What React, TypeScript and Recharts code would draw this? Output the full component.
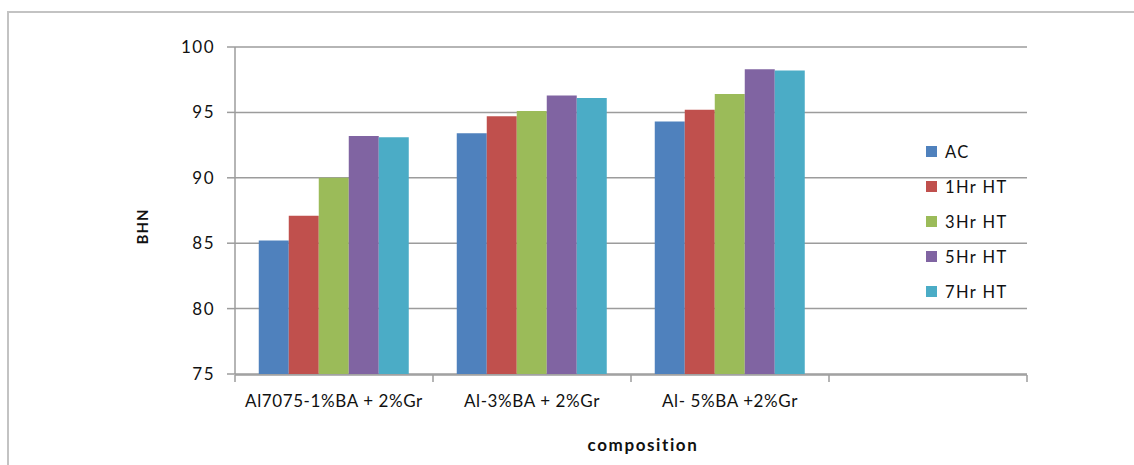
import React from 'react';
import { BarChart, Bar, XAxis, YAxis, CartesianGrid, Legend, Label } from 'recharts';

// Hardness (BHN) of each composition after different heat-treatment times
const compositions = ['Al7075-1%BA + 2%Gr', 'Al-3%BA + 2%Gr', 'Al- 5%BA +2%Gr', ''];
const acValues = [85.2, 93.4, 94.3, null];
const hr1Values = [87.1, 94.7, 95.2, null];
const hr3Values = [90.0, 95.1, 96.4, null];
const hr5Values = [93.2, 96.3, 98.3, null];
const hr7Values = [93.1, 96.1, 98.2, null];

const seriesKeys = ['ac', 'h1', 'h3', 'h5', 'h7'];
const seriesNames = ['AC', '1Hr HT', '3Hr HT', '5Hr HT', '7Hr HT'];
const seriesColors = ['#4F81BD', '#C0504D', '#9BBB59', '#8064A2', '#4BACC6'];
const yTicks = [75, 80, 85, 90, 95, 100];
const slotEdges = [0, 1, 2, 3, 4];

const seriesValues = [acValues, hr1Values, hr3Values, hr5Values, hr7Values];

const data = compositions.map((composition, i) => {
  const row: Record<string, any> = { composition, slot: i + 0.5 };
  seriesKeys.forEach((k, s) => {
    row[k] = seriesValues[s][i];
  });
  return row;
});

const FONT = 'Lato, "Open Sans", sans-serif';
const AXIS_GRAY = '#9c9c9c';
const TEXT = '#111111';

const renderLegend = () => (
  <div style={{ fontFamily: FONT, fontSize: 16.5, color: TEXT, letterSpacing: 1.4 }}>
    {seriesNames.map((name, i) => (
      <div key={name} style={{ display: 'flex', alignItems: 'center', height: 35 }}>
        <span
          style={{ display: 'inline-block', width: 11, height: 11, background: seriesColors[i], marginRight: 8 }}
        />
        <span>{name}</span>
      </div>
    ))}
  </div>
);

const yTitle = (props: any) => {
  const vb = props.viewBox || {};
  const cx = vb.x - 33;
  const cy = vb.y + vb.height / 2 + 16;
  return (
    <text
      x={cx}
      y={cy}
      transform={`rotate(-90, ${cx}, ${cy})`}
      textAnchor="middle"
      dominantBaseline="central"
      fontFamily={FONT}
      fontWeight={700}
      fontSize={15}
      letterSpacing={1}
      fill={TEXT}
    >
      BHN
    </text>
  );
};

const xTitle = (props: any) => {
  const vb = props.viewBox || {};
  return (
    <text
      x={vb.x + vb.width / 2 + 12}
      y={366 + 70}
      textAnchor="middle"
      dominantBaseline="central"
      fontFamily={FONT}
      fontWeight={700}
      fontSize={17}
      letterSpacing={1.6}
      fill={TEXT}
    >
      composition
    </text>
  );
};

export default function App() {
  return (
    <div
      style={{
        position: 'fixed',
        left: 0,
        top: 0,
        width: 1134,
        height: 465,
        overflow: 'hidden',
        background: '#fff',
      }}
    >
      <div
        style={{
          position: 'absolute',
          left: 7,
          top: 11,
          width: 1200,
          height: 600,
          borderTop: '2px solid #c3c3c3',
          borderLeft: '2px solid #c3c3c3',
        }}
      />
      <div style={{ position: 'absolute', left: 8, top: 8 }}>
        <BarChart
          width={1126}
          height={457}
          data={data}
          margin={{ top: 39, right: 107, left: 167, bottom: 89 }}
          barCategoryGap="12%"
          barGap={0}
        >
          <CartesianGrid xAxisId="cat" vertical={false} stroke={AXIS_GRAY} strokeWidth={1.5} />
          <XAxis
            xAxisId="cat"
            dataKey="composition"
            height={1}
            axisLine={false}
            tickLine={false}
            tickSize={6}
            tickMargin={15}
            interval={0}
            tick={{ fill: TEXT, fontSize: 17, fontFamily: FONT, letterSpacing: 0.6 }}
          >
            <Label content={xTitle} />
          </XAxis>
          <XAxis
            xAxisId="edges"
            type="number"
            dataKey="slot"
            domain={[0, 4]}
            ticks={slotEdges}
            height={1}
            tickSize={7}
            tickFormatter={() => ''}
            axisLine={{ stroke: AXIS_GRAY, strokeWidth: 1.5 }}
            tickLine={{ stroke: AXIS_GRAY, strokeWidth: 1.5 }}
          />
          <YAxis
            domain={[75, 100]}
            ticks={yTicks}
            width={60}
            tickSize={8}
            tickMargin={12}
            axisLine={{ stroke: AXIS_GRAY, strokeWidth: 1.5 }}
            tickLine={{ stroke: AXIS_GRAY, strokeWidth: 1.5 }}
            tick={{ fill: TEXT, fontSize: 17, fontFamily: FONT, letterSpacing: 1.5 }}
          >
            <Label content={yTitle} />
          </YAxis>
          <Legend
            layout="vertical"
            align="center"
            verticalAlign="middle"
            content={renderLegend}
            wrapperStyle={{ left: 918, top: 126, width: 120 }}
          />
          {seriesKeys.map((k, i) => (
            <Bar
              key={k}
              xAxisId="cat"
              dataKey={k}
              name={seriesNames[i]}
              fill={seriesColors[i]}
              isAnimationActive={false}
            />
          ))}
        </BarChart>
      </div>
    </div>
  );
}
